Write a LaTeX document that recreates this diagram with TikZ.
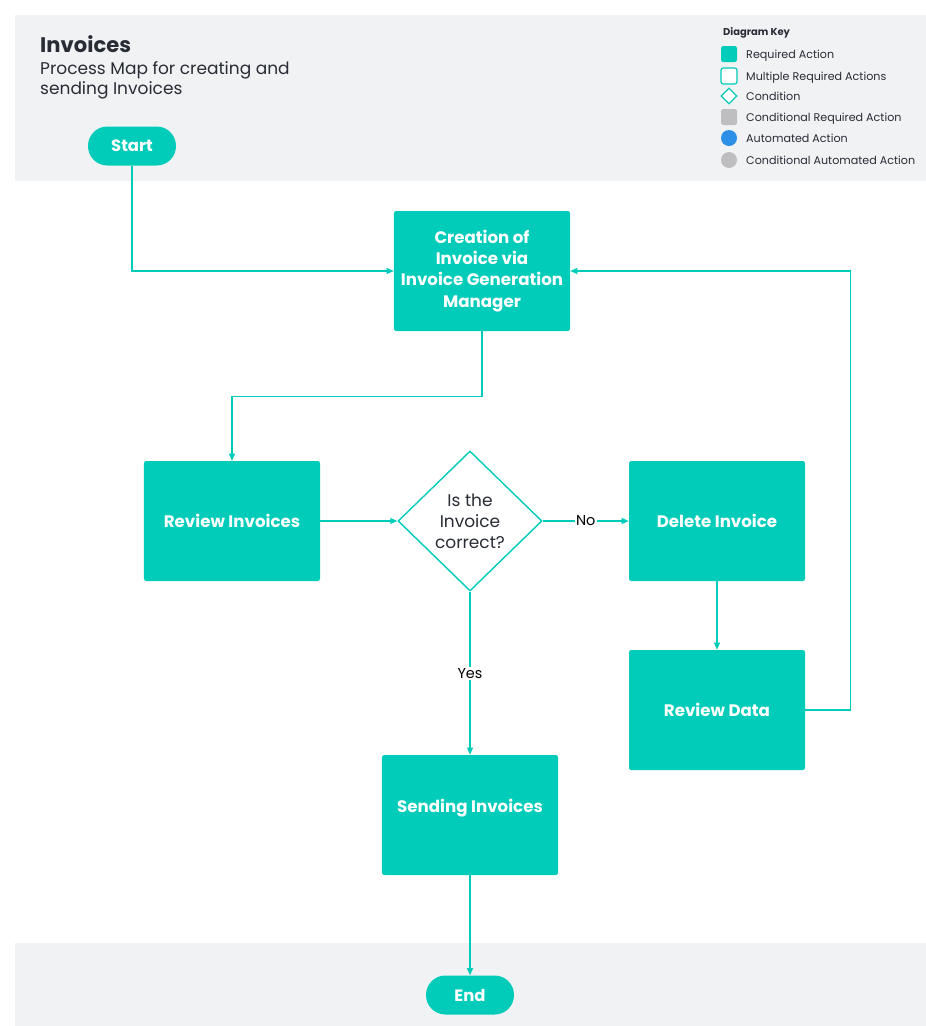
\documentclass[tikz,border=0pt]{standalone}
\usepackage{fontspec}
\setmainfont{Poppins}
\usetikzlibrary{shapes.geometric, arrows.meta, positioning, calc}
\definecolor{mpteal}{RGB}{0,204,185}
\definecolor{mpband}{RGB}{241,242,244}
\definecolor{mpink}{RGB}{40,44,52}
\definecolor{mpgrey}{RGB}{190,190,192}
\definecolor{mpblue}{RGB}{45,143,230}

\begin{document}
\begin{tikzpicture}[x=0.03cm,y=-0.03cm,
  action/.style={draw=none,fill=mpteal,rounded corners=2pt,minimum width=5.28cm,
    minimum height=3.6cm,align=center,text=white,font=\fontsize{14.2}{18}\selectfont\bfseries},
  terminal/.style={fill=mpteal,rounded corners=0.58cm,minimum width=2.64cm,
    minimum height=1.17cm,text=white,font=\fontsize{14}{16}\selectfont\bfseries},
  decision/.style={diamond,draw=mpteal,line width=1.2pt,fill=white,minimum width=4.32cm,
    minimum height=4.2cm,inner sep=0pt,align=center,text=mpink,font=\fontsize{14.5}{18}\selectfont},
  flow/.style={draw=mpteal,line width=1.2pt,-{Triangle[length=6pt,width=5pt]}},
  lbl/.style={fill=white,inner sep=1pt,text=black,font=\fontsize{12.3}{13}\selectfont},
  keyicon/.style={minimum size=0.48cm,inner sep=0pt,rounded corners=2pt},
  keytext/.style={anchor=base west,inner sep=0pt,text=mpink,font=\fontsize{9.5}{11}\selectfont}]
\useasboundingbox (0,0) rectangle (926,1026);

% Bands
\fill[mpband] (15,15) rectangle (926,181);
\fill[mpband] (15,943) rectangle (926,1026);

% Title
\node[anchor=base west,inner sep=0pt,text=mpink,font=\fontsize{18}{20}\selectfont\bfseries] (title) at (40,52) {Invoices};
\node[anchor=base west,inner sep=0pt,text=mpink,font=\fontsize{14.5}{17}\selectfont] (sub1) at (40,74) {Process Map for creating and};
\node[anchor=base west,inner sep=0pt,text=mpink,font=\fontsize{14.5}{17}\selectfont] (sub2) at (40,94) {sending Invoices};

% Diagram key
\node[keytext,font=\fontsize{8.5}{10}\selectfont\bfseries] (keyhead) at (723,35) {Diagram Key};
\node[keyicon,fill=mpteal] (k1) at (729,54) {};
\node[keytext] at (746,58) {Required Action};
\node[keyicon,draw=mpteal,line width=1pt,fill=white] (k2) at (729,76) {};
\node[keytext] at (746,80) {Multiple Required Actions};
\node[diamond,draw=mpteal,line width=1pt,fill=white,minimum size=0.48cm,inner sep=0pt] (k3) at (729,96) {};
\node[keytext] at (746,100) {Condition};
\node[keyicon,fill=mpgrey] (k4) at (729,117) {};
\node[keytext] at (746,121) {Conditional Required Action};
\node[circle,fill=mpblue,minimum size=0.48cm,inner sep=0pt] (k5) at (729,138) {};
\node[keytext] at (746,142) {Automated Action};
\node[circle,fill=mpgrey,minimum size=0.48cm,inner sep=0pt] (k6) at (729,160) {};
\node[keytext] at (746,164) {Conditional Automated Action};

% Process nodes
\node[terminal] (start) at (132,146) {Start};
\node[action] (create) at (482,271) {Creation of\\Invoice via\\Invoice Generation\\Manager};
\node[action] (review) at (232,521) {Review Invoices};
\node[decision] (check) at (470,521) {Is the\\Invoice\\correct?};
\node[action] (delete) at (717,521) {Delete Invoice};
\node[action] (rdata) at (717,710) {Review Data};
\node[action] (send) at (470,815) {Sending Invoices\\[-3pt]\mbox{}};
\node[terminal] (end) at (470,995) {End};

% Connectors
\draw[flow] (start.south) |- (create.west);
\draw[flow] (create.south) -- ++(0,65) -| (review.north);
\draw[flow] (review.east) -- (check.west);
\draw[flow] (check.east) -- node[lbl] {No} (delete.west);
\draw[flow] (delete.south) -- (rdata.north);
\draw[flow] (rdata.east) -- ++(45,0) |- (create.east);
\draw[flow] (check.south) -- node[lbl] {Yes} (send.north);
\draw[flow] (send.south) -- (end.north);
\end{tikzpicture}
\end{document}
